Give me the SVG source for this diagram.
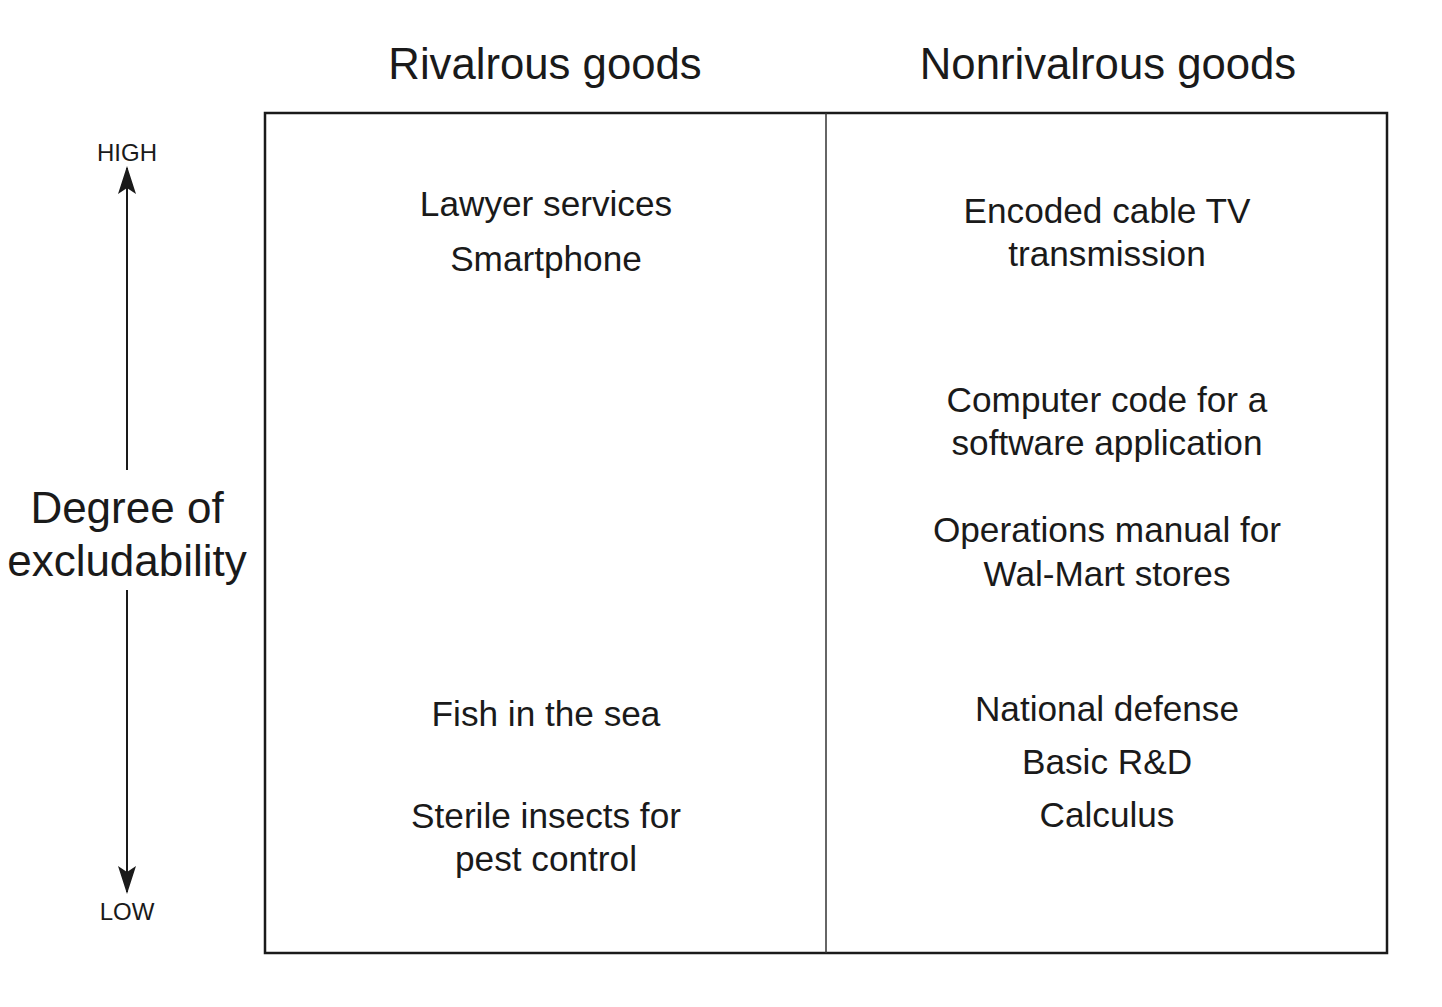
<svg xmlns="http://www.w3.org/2000/svg" width="1442" height="1007" viewBox="0 0 1442 1007">
<style>
text{font-family:"Liberation Sans",Arial,sans-serif;fill:#1a1a1a;text-anchor:middle}
.h{font-size:43.7px}
.b{font-size:35.2px}
.s{font-size:24px}
.a{font-size:44px}
</style>
<defs>
<marker id="ar" viewBox="0 0 28 18" refX="26" refY="9" markerWidth="28" markerHeight="18" markerUnits="userSpaceOnUse" orient="auto">
<path d="M28 9 L0 0 L6 9 L0 18 Z" fill="#1a1a1a"/>
</marker>
</defs>
<rect width="1442" height="1007" fill="#fff"/>
<g id="headers">
<text class="h" x="545" y="79">Rivalrous goods</text>
<text class="h" x="1108" y="79">Nonrivalrous goods</text>
</g>
<g id="grid">
<rect x="265" y="113" width="1122" height="840" fill="none" stroke="#1a1a1a" stroke-width="2.5"/>
<line x1="826" y1="113" x2="826" y2="953" stroke="#333" stroke-width="1.5"/>
</g>
<g id="axis">
<text class="s" x="127" y="161">HIGH</text>
<text class="s" x="127" y="920">LOW</text>
<text class="a" x="127" y="523">Degree of</text>
<text class="a" x="127" y="576">excludability</text>
</g>
<g id="connectors" stroke="#1a1a1a" stroke-width="2" fill="none">
<line x1="127" y1="470" x2="127" y2="168" marker-end="url(#ar)"/>
<line x1="127" y1="590" x2="127" y2="892" marker-end="url(#ar)"/>
</g>
<g id="rival">
<text class="b" x="546" y="216">Lawyer services</text>
<text class="b" x="546" y="271">Smartphone</text>
<text class="b" x="546" y="726">Fish in the sea</text>
<text class="b" x="546" y="828">Sterile insects for</text>
<text class="b" x="546" y="871">pest control</text>
</g>
<g id="nonrival">
<text class="b" x="1107" y="223">Encoded cable TV</text>
<text class="b" x="1107" y="266">transmission</text>
<text class="b" x="1107" y="412">Computer code for a</text>
<text class="b" x="1107" y="455">software application</text>
<text class="b" x="1107" y="542">Operations manual for</text>
<text class="b" x="1107" y="586">Wal-Mart stores</text>
<text class="b" x="1107" y="721">National defense</text>
<text class="b" x="1107" y="774">Basic R&amp;D</text>
<text class="b" x="1107" y="827">Calculus</text>
</g>
</svg>
